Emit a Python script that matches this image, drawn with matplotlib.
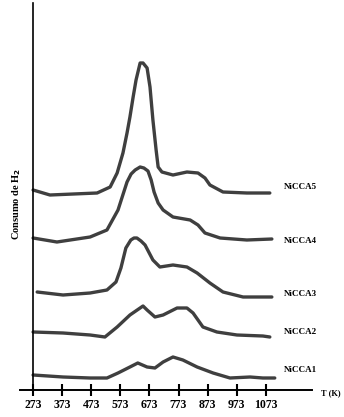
import numpy as np
import matplotlib.pyplot as plt

"""TPR data read from the figure (T in K, signal in arbitrary units)"""
T5 = [273, 331, 493, 538, 562, 582, 596, 606, 617, 627, 641, 651, 665, 675, 685, 696, 703, 716,
      754, 802, 840, 864, 881, 926, 1008, 1087]
H5 = [200, 195, 197, 203, 217, 237, 257, 273, 293, 310, 327, 327, 322, 303, 270, 240, 223, 218,
      215, 218, 217, 212, 205, 198, 197, 197]

T4 = [273, 355, 469, 527, 565, 596, 610, 624, 641, 654, 668, 679, 689, 703, 720, 754, 813, 840,
      864, 916, 1008, 1094]
H4 = [152, 148, 153, 160, 180, 208, 216, 220, 223, 222, 219, 210, 198, 187, 180, 173, 170, 165,
      157, 152, 150, 151]

T3 = [287, 376, 469, 527, 558, 575, 592, 609, 620, 630, 644, 658, 685, 709, 754, 802, 837, 881,
      926, 995, 1094]
H3 = [98, 95, 97, 100, 108, 122, 142, 150, 152, 152, 149, 145, 130, 123, 125, 123, 117, 107,
      98, 93, 93]

T2 = [273, 376, 469, 520, 562, 606, 651, 665, 692, 720, 768, 802, 823, 857, 905, 974, 1063, 1087]
H2 = [58, 57, 55, 53, 63, 75, 84, 80, 73, 75, 82, 82, 77, 63, 58, 55, 54, 53]

T1 = [273, 376, 469, 527, 565, 606, 633, 665, 692, 720, 754, 788, 837, 892, 950, 1019, 1063, 1104]
H1 = [15, 13, 12, 12, 17, 23, 27, 23, 22, 28, 33, 30, 23, 17, 12, 13, 12, 12]

names = ['NiCCA5', 'NiCCA4', 'NiCCA3', 'NiCCA2', 'NiCCA1']
label_y = [203, 149, 96, 58, 20]
xticks = [273, 373, 473, 573, 673, 773, 873, 973, 1073]

"""Figure"""
plt.rcParams['font.family'] = 'Liberation Serif'
plt.rcParams['font.weight'] = 'bold'
fig = plt.figure(figsize=(3.44, 4.17), dpi=100)
ax = fig.add_axes([20/344, 27/417, (312-20)/344, (390-3)/417])

c = '#3f3f3f'
for T, H in [(T5, H5), (T4, H4), (T3, H3), (T2, H2), (T1, H1)]:
    ax.plot(T, H, c=c, lw=2.4, solid_joinstyle='round', solid_capstyle='round')

for name, y in zip(names, label_y):
    ax.text(1134, y, name, fontsize=6.5, fontweight='bold', va='center', ha='left')

ax.set_xlim(228, 1232)
ax.set_ylim(0, 387)
ax.spines['top'].set_visible(False)
ax.spines['right'].set_visible(False)
ax.spines['left'].set_position(('data', 273))
ax.spines['left'].set_linewidth(1.2)
ax.spines['bottom'].set_linewidth(1.4)
ax.set_yticks([])
ax.set_xticks(xticks)
ax.set_xticklabels([str(v) for v in xticks], fontsize=8.5, fontweight='bold')
ax.tick_params(axis='x', direction='inout', length=9, width=1.5, pad=2)

fig.text(321/344, 1 - 393/417, 'T (K)', fontsize=6, fontweight='bold', va='center', ha='left')
fig.text(17/344, 1 - 204/417, 'Consumo de H$_2$', fontsize=7.5, fontweight='bold',
         rotation=90, va='center', ha='center')

fig.savefig('out.png', dpi=100)
